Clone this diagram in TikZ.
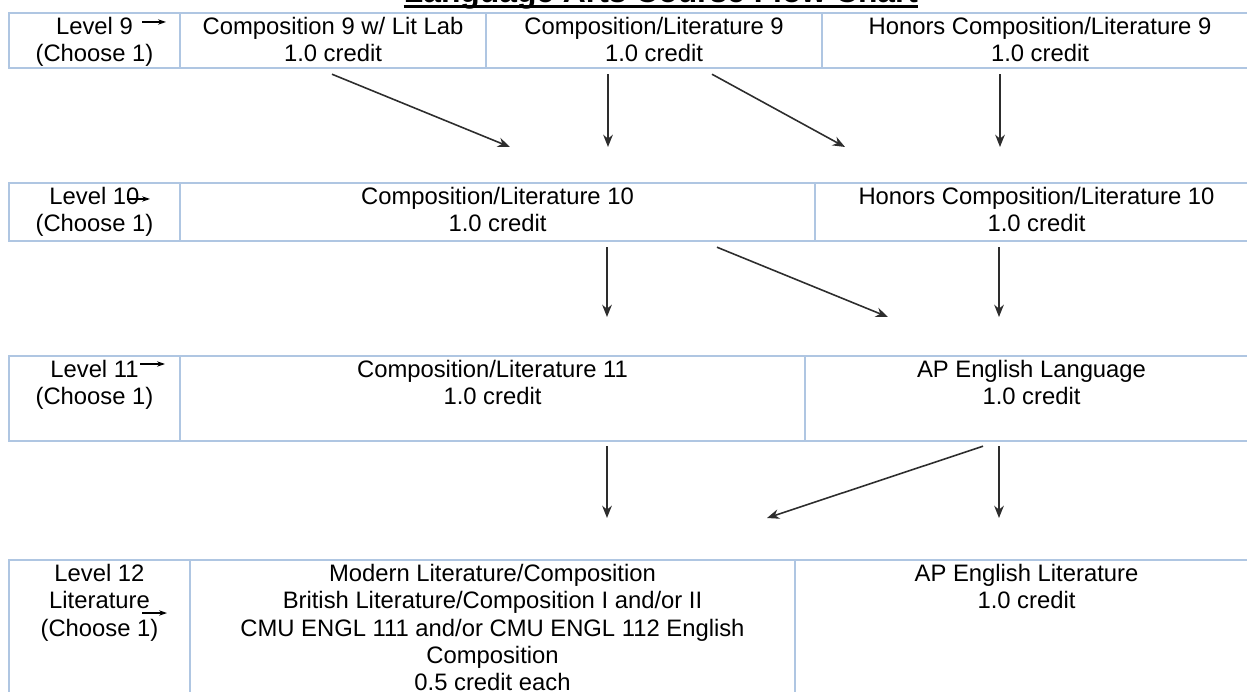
\documentclass[tikz,border=0pt]{standalone}
\usepackage{fontspec}
\setmainfont{Liberation Sans}
\usetikzlibrary{arrows.meta,positioning,calc}
\definecolor{gridblue}{RGB}{175,198,226}
\definecolor{arrowgray}{RGB}{45,45,45}

\begin{document}
\begin{tikzpicture}[x=0.02cm,y=-0.02cm,
  cell/.style={draw=gridblue,line width=1.4pt,inner sep=0pt},
  celltext/.style={align=center,inner sep=0pt,font=\fontsize{13.55}{15.6}\selectfont},
  flow/.style={-{Stealth[length=7pt,width=5.5pt]},line width=0.9pt,arrowgray},
  stub/.style={-{Stealth[length=4.5pt,width=3pt]},line width=0.6pt,black}]
  \useasboundingbox (0,0) rectangle (1247,692);

  % title
  \node[inner sep=0pt,anchor=base,font=\fontsize{18.1}{20}\selectfont\bfseries] (title) at (661,3) {Language Arts Course Flow Chart};
  \draw[line width=1.35pt] ([yshift=-1.9pt]title.base west) -- ([yshift=-1.9pt]title.base east);

  % level 9
  \node[cell,minimum width=3.42cm,minimum height=1.1cm] (lvl9) at (94.5,40.5) {};
  \node[cell,minimum width=6.12cm,minimum height=1.1cm] (comp9lab) at (333,40.5) {};
  \node[cell,minimum width=6.72cm,minimum height=1.1cm] (comp9) at (654,40.5) {};
  \node[cell,minimum width=8.72cm,minimum height=1.1cm] (hon9) at (1040,40.5) {};
  \node[celltext,below=2.8pt of lvl9.north] (lvl9txt) {Level 9\\(Choose 1)};
  \node[celltext,below=2.8pt of comp9lab.north] (comp9labtxt) {Composition 9 w/ Lit Lab\\1.0 credit};
  \node[celltext,below=2.8pt of comp9.north] (comp9txt) {Composition/Literature 9\\1.0 credit};
  \node[celltext,below=2.8pt of hon9.north] (hon9txt) {Honors Composition/Literature 9\\1.0 credit};

  % level 10
  \node[cell,minimum width=3.42cm,minimum height=1.16cm] (lvl10) at (94.5,212) {};
  \node[cell,minimum width=12.7cm,minimum height=1.16cm] (comp10) at (497.5,212) {};
  \node[cell,minimum width=8.86cm,minimum height=1.16cm] (hon10) at (1036.5,212) {};
  \node[celltext,below=2.8pt of lvl10.north] (lvl10txt) {Level 10\\(Choose 1)};
  \node[celltext,below=2.8pt of comp10.north] (comp10txt) {Composition/Literature 10\\1.0 credit};
  \node[celltext,below=2.8pt of hon10.north] (hon10txt) {Honors Composition/Literature 10\\1.0 credit};

  % level 11
  \node[cell,minimum width=3.42cm,minimum height=1.7cm] (lvl11) at (94.5,398.5) {};
  \node[cell,minimum width=12.5cm,minimum height=1.7cm] (comp11) at (492.5,398.5) {};
  \node[cell,minimum width=9.06cm,minimum height=1.7cm] (aplang) at (1031.5,398.5) {};
  \node[celltext,below=2.8pt of lvl11.north] (lvl11txt) {Level 11\\(Choose 1)};
  \node[celltext,below=2.8pt of comp11.north] (comp11txt) {Composition/Literature 11\\1.0 credit};
  \node[celltext,below=2.8pt of aplang.north] (aplangtxt) {AP English Language\\1.0 credit};

  % level 12
  \node[cell,minimum width=3.62cm,minimum height=3.1cm] (lvl12) at (99.5,637.5) {};
  \node[cell,minimum width=12.1cm,minimum height=3.1cm] (lit12) at (492.5,637.5) {};
  \node[cell,minimum width=9.26cm,minimum height=3.1cm] (aplit) at (1026.5,637.5) {};
  \node[celltext,below=2.8pt of lvl12.north] (lvl12txt) {Level 12\\Literature\\(Choose 1)};
  \node[celltext,below=2.8pt of lit12.north] (lit12txt) {Modern Literature/Composition\\British Literature/Composition I and/or II\\CMU ENGL 111 and/or CMU ENGL 112 English\\Composition\\0.5 credit each};
  \node[celltext,below=2.8pt of aplit.north] (aplittxt) {AP English Literature\\1.0 credit};

  % arrow ends
  \coordinate (e1) at (510,147);
  \coordinate (e2) at (608,147);
  \coordinate (e3) at (845,147);
  \coordinate (e4) at (1000,147);
  \coordinate (e5) at (607,317);
  \coordinate (e6) at (888,317);
  \coordinate (e7) at (999,317);
  \coordinate (e8) at (607,518);
  \coordinate (e9) at (767,518);
  \coordinate (e10) at (999,518);

  \draw[flow] ($(comp9lab.south)+(-1,5)$) -- (e1);
  \draw[flow] ($(comp9.south)+(-46,5)$) -- (e2);
  \draw[flow] ($(comp9.south)+(58,5)$) -- (e3);
  \draw[flow] ($(hon9.south)+(-40,5)$) -- (e4);
  \draw[flow] ($(comp10.south)+(109.5,5)$) -- (e5);
  \draw[flow] ($(comp10.south)+(219.5,5)$) -- (e6);
  \draw[flow] ($(hon10.south)+(-37.5,5)$) -- (e7);
  \draw[flow] ($(comp11.south)+(114.5,4)$) -- (e8);
  \draw[flow] ($(aplang.south)+(-48.5,4)$) -- (e9);
  \draw[flow] ($(aplang.south)+(-32.5,4)$) -- (e10);

  % small stray arrows
  \coordinate (s9a) at (142,22);   \coordinate (s9b) at (166,22);
  \coordinate (s10a) at (127,199); \coordinate (s10b) at (150,199);
  \coordinate (s11a) at (140,364); \coordinate (s11b) at (165,364);
  \coordinate (s12a) at (142,613); \coordinate (s12b) at (167,613);
  \draw[stub] (s9a) -- (s9b);
  \draw[stub] (s10a) -- (s10b);
  \draw[stub] (s11a) -- (s11b);
  \draw[stub] (s12a) -- (s12b);
\end{tikzpicture}
\end{document}
